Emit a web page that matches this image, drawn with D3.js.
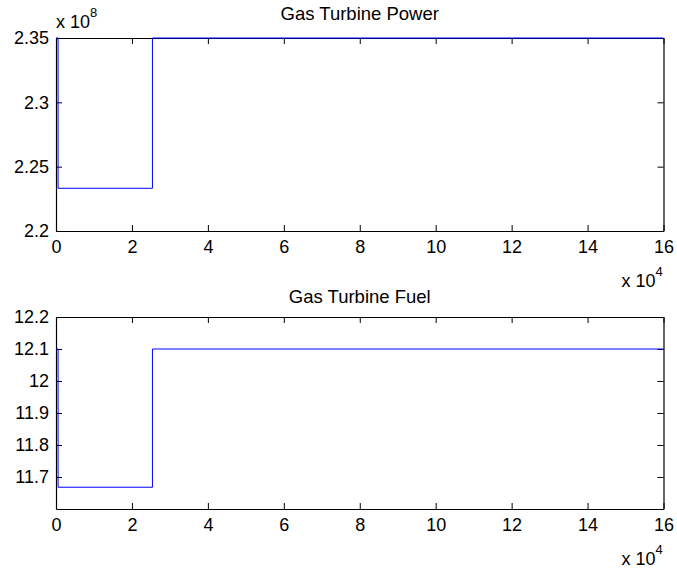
<!DOCTYPE html>
<html><head><meta charset="utf-8">
<script src="https://cdn.jsdelivr.net/npm/d3@7"></script>
<style>
body{margin:0;background:#fff;}
svg text{font-family:"Liberation Sans",Arial,Helvetica,sans-serif;fill:#000;}
</style></head>
<body><svg id="c" width="677" height="571"></svg>
<script>
// ---- data ----
const times = [0, 550, 25400, 160000];
const powerValues = [2.35e8, 2.2332e8, 2.35e8, 2.35e8];
const fuelValues = [12.1, 11.668, 12.1, 12.1];
const xTicks = [0, 2e4, 4e4, 6e4, 8e4, 10e4, 12e4, 14e4, 16e4];
const powerTicks = [2.2e8, 2.25e8, 2.3e8, 2.35e8];
const fuelTicks = [11.7, 11.8, 11.9, 12.0, 12.1, 12.2];
const titles = ["Gas Turbine Power", "Gas Turbine Fuel"];

const svg = d3.select("#c");
const L = 56, R = 663.5;
const x = d3.scaleLinear().domain([0, 16e4]).range([L, R]);

function panel(top, bottom, yDomain, yTicks, yFmt, values, title, titleY, yExp) {
  const y = d3.scaleLinear().domain(yDomain).range([bottom, top]);
  const g = svg.append("g");
  const fs = "18px";
  const ab = g.append("g").attr("transform", `translate(0,${bottom})`)
    .call(d3.axisBottom(x).tickValues(xTicks).tickSizeInner(-6).tickSizeOuter(0).tickPadding(9)
      .tickFormat(d => d3.format("d")(d / 1e4)));
  const at = g.append("g").attr("transform", `translate(0,${top})`)
    .call(d3.axisTop(x).tickValues(xTicks).tickSizeInner(-6).tickSizeOuter(0).tickFormat(""));
  const al = g.append("g").attr("transform", `translate(${L},0)`)
    .call(d3.axisLeft(y).tickValues(yTicks).tickSizeInner(-6).tickSizeOuter(0).tickPadding(7).tickFormat(yFmt));
  const ar = g.append("g").attr("transform", `translate(${R},0)`)
    .call(d3.axisRight(y).tickValues(yTicks).tickSizeInner(-6).tickSizeOuter(0).tickFormat(""));
  [ab, at, al, ar].forEach(a => {
    a.selectAll("path.domain").attr("stroke", "#000").attr("stroke-width", 1.2);
    a.selectAll(".tick line").attr("stroke", "#000");
    a.selectAll("text").style("font-size", fs).attr("fill", "#000");
  });
  g.append("text").attr("x", (L + R) / 2).attr("y", titleY).attr("text-anchor", "middle")
    .style("font-size", "18.5px").text(title);
  const tx = g.append("text").attr("x", R - 42).attr("y", bottom + 56).style("font-size", "18px");
  tx.append("tspan").text("x 10");
  tx.append("tspan").attr("dy", -11).style("font-size", "13px").text("4");
  if (yExp) {
    const ty = g.append("text").attr("x", L).attr("y", top - 10).style("font-size", "18px");
    ty.append("tspan").text("x 10");
    ty.append("tspan").attr("dy", -11).style("font-size", "13px").text(yExp);
  }
  const line = d3.line().x((d, i) => x(times[i])).y(d => y(d)).curve(d3.curveStepAfter);
  g.append("path").attr("d", line(values)).attr("fill", "none").attr("stroke", "#0000ff").attr("stroke-width", 1);
}

panel(38, 231, [2.2e8, 2.35e8], powerTicks, d => d3.format("")(+(d / 1e8).toFixed(2)), powerValues, titles[0], 20, "8");
panel(317, 509, [11.6, 12.2], fuelTicks, d => d3.format("")(+d.toFixed(1)), fuelValues, titles[1], 303, null);
</script></body></html>
